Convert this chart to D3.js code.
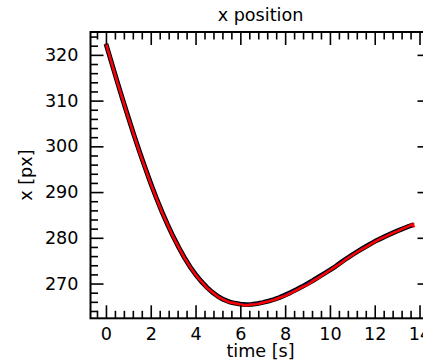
<!DOCTYPE html>
<html>
<head>
<meta charset="utf-8">
<script src="https://cdn.jsdelivr.net/npm/d3@7"></script>
<style>
  html, body { margin: 0; padding: 0; background: #fff; overflow: hidden; }
  svg { display: block; font-family: "DejaVu Sans", sans-serif; }
</style>
</head>
<body>
<svg id="chart" width="423" height="364"></svg>
<script>
// Sample times [s]
const time = [
  0.00, 0.25, 0.50, 0.75, 1.00, 1.25, 1.50, 1.75, 2.00, 2.25,
  2.50, 2.75, 3.00, 3.25, 3.50, 3.75, 4.00, 4.25, 4.50, 4.75,
  5.00, 5.25, 5.50, 5.75, 6.00, 6.25, 6.50, 6.75, 7.00, 7.25,
  7.50, 7.75, 8.00, 8.25, 8.50, 8.75, 9.00, 9.25, 9.50, 9.75,
  10.00, 10.25, 10.50, 10.75, 11.00, 11.25, 11.50, 11.75, 12.00, 12.25,
  12.50, 12.75, 13.00, 13.25, 13.50, 13.70, 13.75
];

// Measured x position [px]
const xMeasured = [
  322.4, 318.3, 314.2, 310.2, 306.3, 302.5, 298.8, 295.3, 291.9, 288.7,
  285.7, 282.9, 280.3, 277.9, 275.7, 273.7, 272.0, 270.5, 269.2, 268.1,
  267.2, 266.5, 266.0, 265.7, 265.5, 265.4, 265.45, 265.6, 265.85, 266.15,
  266.5, 266.95, 267.5, 268.05, 268.65, 269.3, 270.0, 270.7, 271.45, 272.2,
  272.95, 273.75, 274.65, 275.5, 276.3, 277.05, 277.8, 278.5, 279.2, 279.8,
  280.4, 280.95, 281.5, 282.0, 282.45, 282.8, 282.75
];

// Tracked x position [px]
const xTracked = [
  322.5, 318.3, 314.1, 310.2, 306.2, 302.5, 298.7, 295.3, 291.8, 288.7,
  285.6, 282.9, 280.2, 277.9, 275.6, 273.7, 271.9, 270.5, 269.1, 268.1,
  267.1, 266.5, 265.9, 265.7, 265.4, 265.2, 265.4, 265.5, 265.8, 266.1,
  266.4, 266.9, 267.3, 267.9, 268.5, 269.2, 269.7, 270.6, 271.3, 272.1,
  272.9, 273.7, 274.5, 275.4, 276.2, 277.0, 277.7, 278.4, 279.1, 279.8,
  280.3, 280.9, 281.4, 282.0, 282.5, 283.0, 282.3
];

// Axis ranges and tick values
const xLimits = [-0.69, 14.49];
const yLimits = [262.4, 325.0];
const xMajorTicks = [0, 2, 4, 6, 8, 10, 12, 14];
const xMinorTicks = [-0.4, 0.4, 0.8, 1.2, 1.6, 2.4, 2.8, 3.2, 3.6, 4.4, 4.8, 5.2, 5.6,
  6.4, 6.8, 7.2, 7.6, 8.4, 8.8, 9.2, 9.6, 10.4, 10.8, 11.2, 11.6, 12.4, 12.8, 13.2, 13.6, 14.4];
const yMajorTicks = [270, 280, 290, 300, 310, 320];
const yMinorTicks = [264, 266, 268, 272, 274, 276, 278, 282, 284, 286, 288, 292, 294, 296, 298,
  302, 304, 306, 308, 312, 314, 316, 318, 322, 324];

const titleText = "x position";
const xLabelText = "time [s]";
const yLabelText = "x [px]";

const margin = { left: 90.5, top: 32, right: 430.5, bottom: 318.3 };
const fontSize = 17.6;
const majorLen = 13, minorLen = 7.5;

const svg = d3.select("#chart");

const x = d3.scaleLinear().domain(xLimits).range([margin.left, margin.right]);
const y = d3.scaleLinear().domain(yLimits).range([margin.bottom, margin.top]);

const clipId = "plot-clip";
svg.append("defs").append("clipPath").attr("id", clipId)
  .append("rect")
  .attr("x", margin.left).attr("y", margin.top)
  .attr("width", margin.right - margin.left)
  .attr("height", margin.bottom - margin.top);

// Data lines
const line = (vals) => d3.line()
  .x((d, i) => x(time[i]))
  .y(d => y(d))(vals);

const plot = svg.append("g").attr("clip-path", `url(#${clipId})`);
plot.append("path")
  .attr("d", line(xMeasured))
  .attr("fill", "none")
  .attr("stroke", "#000")
  .attr("stroke-width", 4.8)
  .attr("stroke-linejoin", "round");
plot.append("path")
  .attr("d", line(xMeasured))
  .attr("fill", "none")
  .attr("stroke", "#1a1a7a")
  .attr("stroke-width", 2.4)
  .attr("stroke-linejoin", "round");
plot.append("path")
  .attr("d", line(xTracked))
  .attr("fill", "none")
  .attr("stroke", "#ff0000")
  .attr("stroke-width", 2.5)
  .attr("stroke-linejoin", "round");

// Axes with inward-pointing ticks on all four sides
function styleAxis(g) {
  g.select(".domain").remove();
  g.selectAll(".tick line").attr("stroke", "#000").attr("stroke-width", 1.6);
  g.selectAll(".tick text")
    .attr("fill", "#000")
    .attr("font-size", fontSize)
    .attr("font-family", "DejaVu Sans, sans-serif");
}

// bottom
svg.append("g").attr("transform", `translate(0,${margin.bottom})`)
  .call(d3.axisBottom(x).tickValues(xMajorTicks).tickSize(-majorLen).tickPadding(9.5).tickFormat(d3.format("d")))
  .call(styleAxis);
svg.append("g").attr("transform", `translate(0,${margin.bottom})`)
  .call(d3.axisBottom(x).tickValues(xMinorTicks).tickSize(-minorLen).tickFormat(""))
  .call(styleAxis);
// top
svg.append("g").attr("transform", `translate(0,${margin.top})`)
  .call(d3.axisTop(x).tickValues(xMajorTicks).tickSize(-majorLen).tickFormat(""))
  .call(styleAxis);
svg.append("g").attr("transform", `translate(0,${margin.top})`)
  .call(d3.axisTop(x).tickValues(xMinorTicks).tickSize(-minorLen).tickFormat(""))
  .call(styleAxis);
// left
svg.append("g").attr("transform", `translate(${margin.left},0)`)
  .call(d3.axisLeft(y).tickValues(yMajorTicks).tickSize(-majorLen).tickPadding(12).tickFormat(d3.format("d")))
  .call(styleAxis);
svg.append("g").attr("transform", `translate(${margin.left},0)`)
  .call(d3.axisLeft(y).tickValues(yMinorTicks).tickSize(-minorLen).tickFormat(""))
  .call(styleAxis);
// right
svg.append("g").attr("transform", `translate(${margin.right},0)`)
  .call(d3.axisRight(y).tickValues(yMajorTicks).tickSize(-majorLen).tickFormat(""))
  .call(styleAxis);
svg.append("g").attr("transform", `translate(${margin.right},0)`)
  .call(d3.axisRight(y).tickValues(yMinorTicks).tickSize(-minorLen).tickFormat(""))
  .call(styleAxis);

// Frame
svg.append("rect")
  .attr("x", margin.left).attr("y", margin.top)
  .attr("width", margin.right - margin.left)
  .attr("height", margin.bottom - margin.top)
  .attr("fill", "none")
  .attr("stroke", "#000")
  .attr("stroke-width", 2);

// Titles
const cx = (margin.left + margin.right) / 2;
svg.append("text")
  .attr("x", cx).attr("y", 20.5)
  .attr("text-anchor", "middle")
  .attr("font-size", fontSize)
  .text(titleText);
svg.append("text")
  .attr("x", cx).attr("y", 356.5)
  .attr("text-anchor", "middle")
  .attr("font-size", fontSize)
  .text(xLabelText);
svg.append("text")
  .attr("transform", `translate(31.5,${(margin.top + margin.bottom) / 2}) rotate(-90)`)
  .attr("text-anchor", "middle")
  .attr("font-size", fontSize)
  .text(yLabelText);
</script>
</body>
</html>
